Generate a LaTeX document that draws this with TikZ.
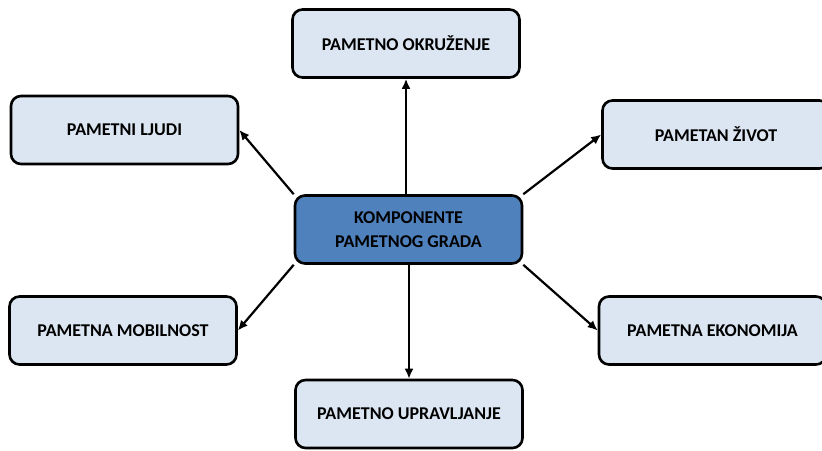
\documentclass[tikz,border=0pt]{standalone}
\usepackage{fontspec}
\setmainfont{Carlito}
\usetikzlibrary{arrows.meta}

\definecolor{plavo}{RGB}{79,129,189}
\definecolor{svijetlo}{RGB}{220,230,242}

\begin{document}
\begin{tikzpicture}[x=1pt,y=-1pt,
    kutija/.style={draw=black, line width=2.6pt, rounded corners=10pt,
        fill=svijetlo, minimum width=227pt, minimum height=68pt,
        font=\fontsize{18}{24}\selectfont\bfseries, align=center},
    jezgra/.style={kutija, fill=plavo},
    strelica/.style={line width=2.2pt, -{Latex[length=10pt,width=9pt]}}]

                            % Okvir slike
                            \useasboundingbox (0,0) rectangle (822,450);

                            % Strelice iz sredine
                            \coordinate (S) at (408.5,229.5);

                            % Sredisnji cvor
                            \node[jezgra] (core) at (S) {KOMPONENTE\\PAMETNOG GRADA};

                            % Komponente oko sredine
                            \node[kutija] (okr) at (406,43.5) {PAMETNO OKRUŽENJE};
                            \node[kutija] (ljudi) at (124.5,130) {PAMETNI LJUDI};
                            \node[kutija] (zivot) at (716,134.5) {PAMETAN ŽIVOT};
                            \node[kutija] (mob) at (123,330.5) {PAMETNA MOBILNOST};
                            \node[kutija] (eko) at (712.5,330.5) {PAMETNA EKONOMIJA};
                            \node[kutija] (upr) at (409,414) {PAMETNO UPRAVLJANJE};

                            % Vektori prema komponentama
                            \draw[strelica] (core.north -| okr.south) -- (okr.south);
                            \draw[strelica] (core.north west) -- (ljudi.east);
                            \draw[strelica] (core.north east) -- (zivot.west);
                            \draw[strelica] (core.south west) -- (mob.east);
                            \draw[strelica] (core.south east) -- (eko.west);
                            \draw[strelica] (core.south -| upr.north) -- (upr.north);

                        \end{tikzpicture}
\end{document}
